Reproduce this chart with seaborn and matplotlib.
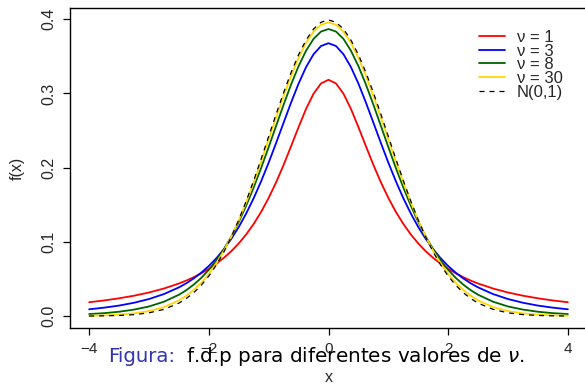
import numpy as np
import pandas as pd
import matplotlib
matplotlib.use("Agg")
import matplotlib.pyplot as plt
import seaborn as sns

x = [-4.0, -3.75, -3.5, -3.25, -3.0, -2.75, -2.5, -2.375, -2.25, -2.125, -2.0, -1.875, -1.75,
     -1.625, -1.5, -1.375, -1.25, -1.125, -1.0, -0.875, -0.75, -0.625, -0.5, -0.375, -0.25,
     -0.125, 0.0, 0.125, 0.25, 0.375, 0.5, 0.625, 0.75, 0.875, 1.0, 1.125, 1.25, 1.375, 1.5,
     1.625, 1.75, 1.875, 2.0, 2.125, 2.25, 2.375, 2.5, 2.75, 3.0, 3.25, 3.5, 3.75, 4.0]

t1 = [0.0187, 0.0211, 0.0240, 0.0275, 0.0318, 0.0372, 0.0439, 0.0479, 0.0525, 0.0577, 0.0637,
      0.0705, 0.0784, 0.0874, 0.0979, 0.1101, 0.1242, 0.1405, 0.1592, 0.1803, 0.2037, 0.2289,
      0.2546, 0.2791, 0.2996, 0.3134, 0.3183, 0.3134, 0.2996, 0.2791, 0.2546, 0.2289, 0.2037,
      0.1803, 0.1592, 0.1405, 0.1242, 0.1101, 0.0979, 0.0874, 0.0784, 0.0705, 0.0637, 0.0577,
      0.0525, 0.0479, 0.0439, 0.0372, 0.0318, 0.0275, 0.0240, 0.0211, 0.0187]
t3 = [0.0092, 0.0114, 0.0142, 0.0180, 0.0230, 0.0297, 0.0387, 0.0443, 0.0509, 0.0586, 0.0675,
      0.0779, 0.0900, 0.1040, 0.1200, 0.1383, 0.1589, 0.1818, 0.2067, 0.2333, 0.2606, 0.2877,
      0.3132, 0.3354, 0.3527, 0.3638, 0.3676, 0.3638, 0.3527, 0.3354, 0.3132, 0.2877, 0.2606,
      0.2333, 0.2067, 0.1818, 0.1589, 0.1383, 0.1200, 0.1040, 0.0900, 0.0779, 0.0675, 0.0586,
      0.0509, 0.0443, 0.0387, 0.0297, 0.0230, 0.0180, 0.0142, 0.0114, 0.0092]
t8 = [0.0028, 0.0040, 0.0059, 0.0088, 0.0130, 0.0194, 0.0288, 0.0350, 0.0426, 0.0516, 0.0624,
      0.0751, 0.0899, 0.1071, 0.1268, 0.1489, 0.1733, 0.1997, 0.2276, 0.2563, 0.2848, 0.3120,
      0.3367, 0.3575, 0.3734, 0.3833, 0.3867, 0.3833, 0.3734, 0.3575, 0.3367, 0.3120, 0.2848,
      0.2563, 0.2276, 0.1997, 0.1733, 0.1489, 0.1268, 0.1071, 0.0899, 0.0751, 0.0624, 0.0516,
      0.0426, 0.0350, 0.0288, 0.0194, 0.0130, 0.0088, 0.0059, 0.0040, 0.0028]
t30 = [0.0005, 0.0010, 0.0020, 0.0037, 0.0068, 0.0121, 0.0211, 0.0274, 0.0353, 0.0450, 0.0569,
       0.0710, 0.0877, 0.1070, 0.1290, 0.1534, 0.1801, 0.2085, 0.2380, 0.2677, 0.2967, 0.3237,
       0.3479, 0.3680, 0.3831, 0.3924, 0.3956, 0.3924, 0.3831, 0.3680, 0.3479, 0.3237, 0.2967,
       0.2677, 0.2380, 0.2085, 0.1801, 0.1534, 0.1290, 0.1070, 0.0877, 0.0710, 0.0569, 0.0450,
       0.0353, 0.0274, 0.0211, 0.0121, 0.0068, 0.0037, 0.0020, 0.0010, 0.0005]
norm = [0.0001, 0.0004, 0.0009, 0.0020, 0.0044, 0.0091, 0.0175, 0.0238, 0.0317, 0.0417, 0.0540,
        0.0688, 0.0863, 0.1065, 0.1295, 0.1550, 0.1826, 0.2119, 0.2420, 0.2721, 0.3011, 0.3282,
        0.3521, 0.3718, 0.3867, 0.3958, 0.3989, 0.3958, 0.3867, 0.3718, 0.3521, 0.3282, 0.3011,
        0.2721, 0.2420, 0.2119, 0.1826, 0.1550, 0.1295, 0.1065, 0.0863, 0.0688, 0.0540, 0.0417,
        0.0317, 0.0238, 0.0175, 0.0091, 0.0044, 0.0020, 0.0009, 0.0004, 0.0001]

labels = ["ν = 1", "ν = 3", "ν = 8", "ν = 30", "N(0,1)"]
colors = ["#FF0000", "#0000FF", "#006400", "#FFD700", "black"]
yticks = [0.0, 0.1, 0.2, 0.3, 0.4]
xticks = [-4, -2, 0, 2, 4]

sns.set_style("ticks")
plt.rcParams["font.family"] = ["Liberation Sans", "DejaVu Sans"]
plt.rcParams["mathtext.fontset"] = "dejavusans"

W, H = 585, 386
fig = plt.figure(figsize=(W / 100, H / 100), dpi=100)
ax = fig.add_axes([70 / W, 1 - 328 / H, 517 / W, 320 / H])

for ys, lab, col in zip([t1, t3, t8, t30], labels[:4], colors[:4]):
    sns.lineplot(x=x, y=ys, color=col, lw=1.3, label=lab, ax=ax)
sns.lineplot(x=x, y=norm, color="black", lw=0.9, linestyle=(0, (4, 4)), label=labels[4], ax=ax)

ax.set_xlim(-4.32, 4.32)
ax.set_ylim(-0.016, 0.415)
ax.set_xticks(xticks)
ax.set_xticklabels(["\u22124", "\u22122", "0", "2", "4"], fontsize=11)
ax.set_yticks(yticks)
ax.set_yticklabels(["0.0", "0.1", "0.2", "0.3", "0.4"], fontsize=11.5, rotation=90, va="center")
ax.tick_params(length=5, width=0.9, color="black", pad=5)
for s in ax.spines.values():
    s.set_linewidth(1.0)
    s.set_color("black")
ax.set_xlabel("")
ax.set_ylabel("")

fig.text(329 / W, 1 - 378 / H, "x", ha="center", va="center", fontsize=11.5)
fig.text(17 / W, 1 - 168 / H, "f(x)", ha="center", va="center", fontsize=11.5, rotation=90)

ax.legend(loc="upper left", bbox_to_anchor=(479 / W, 1 - 30 / H), bbox_transform=fig.transFigure,
          frameon=False, fontsize=12, handlelength=1.55, handletextpad=0.72, labelspacing=-0.08,
          borderpad=0, borderaxespad=0)

fig.text(108 / W, 1 - 357 / H, "Figura:", color="#3333B3", fontsize=14.2, va="center",
         family="DejaVu Sans")
fig.text(186 / W, 1 - 357 / H, r"f.d.p para diferentes valores de $\nu$.", color="black",
         fontsize=14.4, va="center", family="DejaVu Sans")

fig.savefig("out.png", dpi=100)
